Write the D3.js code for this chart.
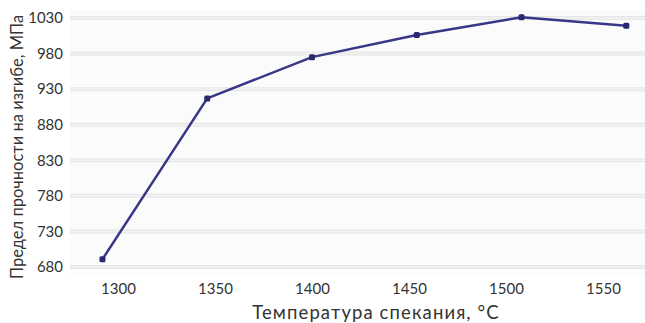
<!DOCTYPE html>
<html><head><meta charset="utf-8">
<script src="https://cdn.jsdelivr.net/npm/d3@7"></script>
<style>
html,body{margin:0;padding:0;background:#fff;}
svg{display:block;}
text{font-family:Lato,"Open Sans",sans-serif;fill:#333;}
</style></head>
<body>
<script>
const temperatures = [1292, 1346, 1400, 1454, 1508, 1562];
const strength = [691, 917, 975, 1006, 1031, 1019];
const xTicks = [1300, 1350, 1400, 1450, 1500, 1550];
const yTicks = [680, 730, 780, 830, 880, 930, 980, 1030];
const xTitle = "Температура спекания, °C";
const yTitle = "Предел прочности на изгибе, МПа";

const W = 645, H = 323;
const svg = d3.select("body").append("svg").attr("width", W).attr("height", H);

const left = 70, right = 645;
const x = d3.scaleLinear().domain([1300, 1550]).range([118, 603]);
const y = d3.scaleLinear().domain([680, 1030]).range([267, 18]);

// plot background
svg.append("rect").attr("x", left).attr("y", 10).attr("width", right - left).attr("height", 265)
  .attr("fill", "#fbfbfb");

// gridlines
const grid = svg.append("g");
grid.selectAll("line.g").data(yTicks).join("line")
  .attr("x1", left).attr("x2", right)
  .attr("y1", d => y(d)).attr("y2", d => y(d))
  .attr("stroke", "#e6e6e6").attr("stroke-width", 4);
grid.selectAll("line.g2").data(yTicks).join("line")
  .attr("x1", left).attr("x2", right)
  .attr("y1", d => y(d)).attr("y2", d => y(d))
  .attr("stroke", "#f3f3f3").attr("stroke-width", 1.5);

// y axis labels
const yAxis = d3.axisLeft(y).tickValues(yTicks).tickSize(0).tickPadding(0).tickFormat(d3.format("d"));
const gy = svg.append("g").attr("transform", `translate(63,0)`).call(yAxis);
gy.select(".domain").remove();
gy.selectAll("text").attr("font-size", 15).attr("font-family", "Lato, sans-serif").attr("fill", "#383838");

// x axis labels
const xAxis = d3.axisBottom(x).tickValues(xTicks).tickSize(0).tickPadding(0).tickFormat(d3.format("d"));
const gx = svg.append("g").attr("transform", `translate(0,283)`).call(xAxis);
gx.select(".domain").remove();
gx.selectAll("text").attr("font-size", 15).attr("font-family", "Lato, sans-serif").attr("fill", "#383838");

// line
const pts = temperatures.map((t, i) => [t, strength[i]]);
svg.append("path").datum(pts)
  .attr("fill", "none").attr("stroke", "#383787").attr("stroke-width", 2.5)
  .attr("stroke-linejoin", "round")
  .attr("d", d3.line().x(d => x(d[0])).y(d => y(d[1])));
svg.selectAll("rect.m").data(pts).join("rect")
  .attr("x", d => x(d[0]) - 3).attr("y", d => y(d[1]) - 3)
  .attr("width", 6).attr("height", 6).attr("rx", 1.5)
  .attr("fill", "#2a2970");

// titles
svg.append("text").attr("x", 376).attr("y", 319).attr("text-anchor", "middle")
  .attr("font-size", 18.5).attr("letter-spacing", 1.1).attr("fill", "#383838").text(xTitle);
svg.append("text").attr("transform", "translate(23,147) rotate(-90)").attr("text-anchor", "middle")
  .attr("font-size", 16.5).attr("fill", "#383838").text(yTitle);
</script>
</body></html>
